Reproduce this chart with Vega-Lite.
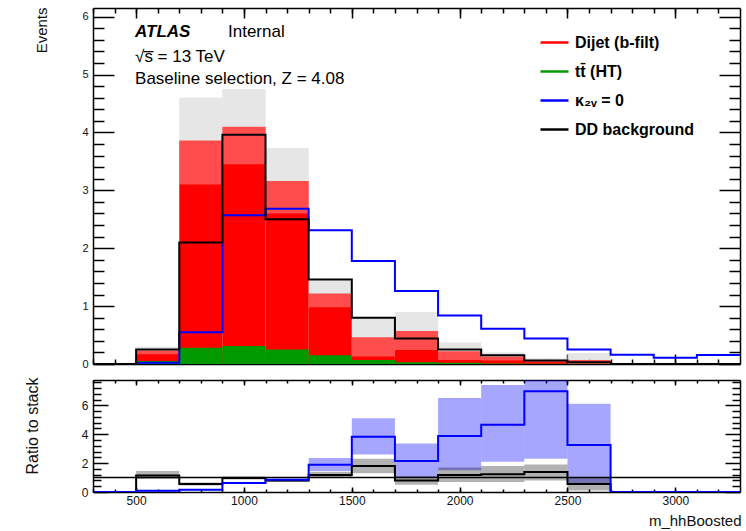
{
  "$schema": "https://vega.github.io/schema/vega-lite/v6.json",
  "background": "white",
  "padding": {"left": 23, "top": 7, "right": 0, "bottom": 0},
  "spacing": 8,
  "config": {
    "font": "Liberation Sans",
    "view": {"stroke": null},
    "axis": {"grid": false, "domain": false, "zindex": 1, "tickColor": "black", "tickWidth": 1.5, "domainColor": "black", "domainWidth": 1.5, "labelFont": "Liberation Sans", "titleFont": "Liberation Sans", "labelColor": "#111", "titleColor": "#111", "titleFontWeight": "normal"}
  },
  "datasets": {
    "bins": [
      {"lo": 300, "hi": 500, "total": 0, "ttbar": 0, "up": 0, "dn": 0, "ddlo": 0, "ddhi": 0, "klo": 0, "khi": 0},
      {"lo": 500, "hi": 700, "total": 0.235, "ttbar": 0.05, "up": 0.3, "dn": 0.17, "ddlo": 0.9, "ddhi": 1.45, "klo": 0.03, "khi": 0.13},
      {"lo": 700, "hi": 900, "total": 3.86, "ttbar": 0.28, "up": 4.6, "dn": 3.1, "ddlo": 0.45, "ddhi": 0.66, "klo": 0.12, "khi": 0.2},
      {"lo": 900, "hi": 1100, "total": 4.1, "ttbar": 0.31, "up": 4.75, "dn": 3.45, "ddlo": 0.86, "ddhi": 1.08, "klo": 0.56, "khi": 0.7},
      {"lo": 1100, "hi": 1300, "total": 3.16, "ttbar": 0.25, "up": 3.73, "dn": 2.6, "ddlo": 0.7, "ddhi": 0.88, "klo": 0.78, "khi": 0.92},
      {"lo": 1300, "hi": 1500, "total": 1.22, "ttbar": 0.15, "up": 1.44, "dn": 0.98, "ddlo": 1.0, "ddhi": 1.4, "klo": 1.45, "khi": 2.35},
      {"lo": 1500, "hi": 1700, "total": 0.46, "ttbar": 0.07, "up": 0.8, "dn": 0.13, "ddlo": 1.3, "ddhi": 2.3, "klo": 2.6, "khi": 5.1},
      {"lo": 1700, "hi": 1900, "total": 0.57, "ttbar": 0.03, "up": 0.9, "dn": 0.24, "ddlo": 0.5, "ddhi": 1.1, "klo": 1.0, "khi": 3.35},
      {"lo": 1900, "hi": 2100, "total": 0.22, "ttbar": 0.02, "up": 0.37, "dn": 0.07, "ddlo": 0.7, "ddhi": 1.7, "klo": 1.5, "khi": 6.5},
      {"lo": 2100, "hi": 2300, "total": 0.13, "ttbar": 0.01, "up": 0.2, "dn": 0.06, "ddlo": 0.7, "ddhi": 1.8, "klo": 2.1, "khi": 7.4},
      {"lo": 2300, "hi": 2500, "total": 0.063, "ttbar": 0.005, "up": 0.1, "dn": 0.03, "ddlo": 0.8, "ddhi": 1.9, "klo": 2.3, "khi": 7.8},
      {"lo": 2500, "hi": 2700, "total": 0.07, "ttbar": 0.005, "up": 0.19, "dn": 0, "ddlo": 0.1, "ddhi": 1.0, "klo": 0.5, "khi": 6.1},
      {"lo": 2700, "hi": 2900, "total": 0, "ttbar": 0, "up": 0, "dn": 0, "ddlo": 0, "ddhi": 0, "klo": 0, "khi": 0},
      {"lo": 2900, "hi": 3100, "total": 0, "ttbar": 0, "up": 0, "dn": 0, "ddlo": 0, "ddhi": 0, "klo": 0, "khi": 0},
      {"lo": 3100, "hi": 3300, "total": 0, "ttbar": 0, "up": 0, "dn": 0, "ddlo": 0, "ddhi": 0, "klo": 0, "khi": 0}
    ],
    "lines": [
      {"x": 300, "dd": 0, "k2v": 0, "rdd": 0, "rk": 0},
      {"x": 500, "dd": 0.25, "k2v": 0.02, "rdd": 1.15, "rk": 0.08},
      {"x": 700, "dd": 2.1, "k2v": 0.55, "rdd": 0.55, "rk": 0.16},
      {"x": 900, "dd": 3.96, "k2v": 2.57, "rdd": 0.97, "rk": 0.63},
      {"x": 1100, "dd": 2.5, "k2v": 2.68, "rdd": 0.79, "rk": 0.85},
      {"x": 1300, "dd": 1.46, "k2v": 2.31, "rdd": 1.18, "rk": 1.89},
      {"x": 1500, "dd": 0.8, "k2v": 1.78, "rdd": 1.8, "rk": 3.82},
      {"x": 1700, "dd": 0.44, "k2v": 1.26, "rdd": 0.8, "rk": 2.15},
      {"x": 1900, "dd": 0.25, "k2v": 0.84, "rdd": 1.18, "rk": 3.88},
      {"x": 2100, "dd": 0.15, "k2v": 0.61, "rdd": 1.22, "rk": 4.65},
      {"x": 2300, "dd": 0.06, "k2v": 0.44, "rdd": 1.38, "rk": 6.97},
      {"x": 2500, "dd": 0.03, "k2v": 0.25, "rdd": 0.55, "rk": 3.25},
      {"x": 2700, "dd": 0, "k2v": 0.16, "rdd": 0, "rk": 0},
      {"x": 2900, "dd": 0, "k2v": 0.11, "rdd": 0, "rk": 0},
      {"x": 3100, "dd": 0, "k2v": 0.155, "rdd": 0, "rk": 0},
      {"x": 3300, "dd": 0, "k2v": 0.155, "rdd": 0, "rk": 0}
    ]
  },
  "vconcat": [
    {
      "width": 647,
      "height": 356,
      "layer": [
        {
          "data": {"name": "bins"},
          "mark": {"type": "rect", "fill": "#c4c4c4", "opacity": 0.6, "clip": true},
          "encoding": {
            "x": {"field": "lo", "type": "quantitative", "scale": {"domain": [300, 3300], "nice": false, "zero": false},
                  "axis": {"orient": "top", "values": [500, 1000, 1500, 2000, 2500, 3000], "tickSize": -10, "labels": false, "title": null, "domain": true}},
            "x2": {"field": "hi"},
            "y": {"field": "up", "type": "quantitative", "scale": {"domain": [0, 6.15], "nice": false},
                  "axis": {"orient": "right", "values": [0, 1, 2, 3, 4, 5, 6], "tickSize": -21, "labels": false, "title": null, "domain": true}},
            "y2": {"field": "dn"}
          }
        },
        {
          "data": {"name": "bins"},
          "mark": {"type": "rect"},
          "encoding": {
            "x": {"field": "lo", "type": "quantitative",
                  "axis": {"orient": "bottom", "values": [500, 1000, 1500, 2000, 2500, 3000], "tickSize": -10, "labels": false, "title": null, "domain": true}},
            "x2": {"field": "hi"},
            "y": {"field": "total", "type": "quantitative",
                  "axis": {"orient": "left", "values": [0, 1, 2, 3, 4, 5, 6], "format": "d", "tickSize": -21, "labelPadding": 26, "labelFontSize": 11, "domain": true,
                           "title": "Events", "titleFontSize": 15, "titleAngle": -90, "titleAlign": "right", "titleBaseline": "alphabetic", "titleX": -47, "titleY": -1}},
            "y2": {"datum": 0},
            "color": {"datum": "Dijet (b-filt)", "type": "nominal",
                      "scale": {"domain": ["Dijet (b-filt)", "tt̄ (HT)", "κ₂ᵥ = 0", "DD background"], "range": ["#ff0000", "#009a00", "#0000ff", "#000000"]},
                      "legend": {"orient": "none", "legendX": 446, "legendY": 19, "title": null, "padding": 0, "symbolType": "stroke", "symbolSize": 784, "symbolStrokeWidth": 2.5,
                                 "labelFont": "Liberation Sans", "labelFontSize": 16, "labelFontWeight": "bold", "labelColor": "black", "labelOffset": 5, "rowPadding": 5,
                                 "encode": {"symbols": {"update": {"stroke": {"scale": "color", "field": "value"}, "fill": {"value": "transparent"}, "strokeWidth": {"value": 2.5}}}}}}
          }
        },
        {
          "data": {"name": "bins"},
          "mark": {"type": "rect"},
          "encoding": {
            "x": {"field": "lo", "type": "quantitative", "axis": {"orient": "bottom", "values": [300,400,500,600,700,800,900,1000,1100,1200,1300,1400,1500,1600,1700,1800,1900,2000,2100,2200,2300,2400,2500,2600,2700,2800,2900,3000,3100,3200], "tickSize": -5, "labels": false, "title": null}},
            "x2": {"field": "hi"},
            "y": {"field": "ttbar", "type": "quantitative", "axis": {"orient": "left", "values": [0.2,0.4,0.6,0.8,1.2,1.4,1.6,1.8,2.2,2.4,2.6,2.8,3.2,3.4,3.6,3.8,4.2,4.4,4.6,4.8,5.2,5.4,5.6,5.8], "tickSize": -11, "labels": false, "title": null}},
            "y2": {"datum": 0},
            "color": {"datum": "tt̄ (HT)", "type": "nominal"}
          }
        },
        {
          "data": {"name": "bins"},
          "mark": {"type": "rect", "fill": "#ffffff", "opacity": 0.3, "clip": true},
          "encoding": {
            "x": {"field": "lo", "type": "quantitative", "axis": null},
            "x2": {"field": "hi"},
            "y": {"field": "up", "type": "quantitative", "axis": null},
            "y2": {"field": "dn"}
          }
        },
        {
          "data": {"name": "lines"},
          "mark": {"type": "line", "interpolate": "step-after", "strokeWidth": 2},
          "encoding": {
            "x": {"field": "x", "type": "quantitative", "axis": {"orient": "top", "values": [300,400,500,600,700,800,900,1000,1100,1200,1300,1400,1500,1600,1700,1800,1900,2000,2100,2200,2300,2400,2500,2600,2700,2800,2900,3000,3100,3200], "tickSize": -5, "labels": false, "title": null}},
            "y": {"field": "k2v", "type": "quantitative", "axis": {"orient": "right", "values": [0.2,0.4,0.6,0.8,1.2,1.4,1.6,1.8,2.2,2.4,2.6,2.8,3.2,3.4,3.6,3.8,4.2,4.4,4.6,4.8,5.2,5.4,5.6,5.8], "tickSize": -11, "labels": false, "title": null}},
            "color": {"datum": "κ₂ᵥ = 0", "type": "nominal"}
          }
        },
        {
          "data": {"name": "lines"},
          "mark": {"type": "line", "interpolate": "step-after", "strokeWidth": 2},
          "encoding": {
            "x": {"field": "x", "type": "quantitative", "axis": null},
            "y": {"field": "dd", "type": "quantitative", "axis": null},
            "color": {"datum": "DD background", "type": "nominal"}
          }
        },
        {
          "data": {"values": [{}]},
          "mark": {"type": "text", "text": "ATLAS", "fontSize": 17, "fontWeight": "bold", "fontStyle": "italic", "align": "left", "baseline": "alphabetic", "color": "black"},
          "encoding": {"x": {"datum": 495, "type": "quantitative", "axis": null}, "y": {"datum": 5.643, "type": "quantitative", "axis": null}}
        },
        {
          "data": {"values": [{}]},
          "mark": {"type": "text", "text": "Internal", "fontSize": 17, "align": "left", "baseline": "alphabetic", "color": "black"},
          "encoding": {"x": {"datum": 926, "type": "quantitative", "axis": null}, "y": {"datum": 5.643, "type": "quantitative", "axis": null}}
        },
        {
          "data": {"values": [{}]},
          "mark": {"type": "text", "text": "√s̅ = 13 TeV", "fontSize": 17, "align": "left", "baseline": "alphabetic", "color": "black"},
          "encoding": {"x": {"datum": 495, "type": "quantitative", "axis": null}, "y": {"datum": 5.212, "type": "quantitative", "axis": null}}
        },
        {
          "data": {"values": [{}]},
          "mark": {"type": "text", "text": "Baseline selection, Z = 4.08", "fontSize": 17, "align": "left", "baseline": "alphabetic", "color": "black"},
          "encoding": {"x": {"datum": 495, "type": "quantitative", "axis": null}, "y": {"datum": 4.84, "type": "quantitative", "axis": null}}
        }
      ],
      "resolve": {"axis": {"x": "independent", "y": "independent"}}
    },
    {
      "width": 647,
      "height": 112,
      "layer": [
        {
          "data": {"name": "bins"},
          "mark": {"type": "rect", "fill": "#0000ff", "opacity": 0.35, "clip": true},
          "encoding": {
            "x": {"field": "lo", "type": "quantitative", "scale": {"domain": [300, 3300], "nice": false, "zero": false},
                  "axis": {"orient": "bottom", "values": [500, 1000, 1500, 2000, 2500, 3000], "format": "d", "tickSize": -5, "labelPadding": 8, "labelFontSize": 12, "domain": true,
                           "title": "m_hhBoosted", "titleFontSize": 15, "titleAlign": "right", "titleAnchor": "end", "titleBaseline": "alphabetic", "titleX": 648, "titleY": 33.5}},
            "x2": {"field": "hi"},
            "y": {"field": "khi", "type": "quantitative", "scale": {"domain": [0, 7.75], "nice": false},
                  "axis": {"orient": "left", "values": [0, 2, 4, 6], "format": "d", "tickSize": -15, "labelPadding": 20, "labelFontSize": 12, "domain": true,
                           "title": "Ratio to stack", "titleFontSize": 16, "titleAngle": -90, "titleAlign": "right", "titleBaseline": "alphabetic", "titleX": -56, "titleY": -3}},
            "y2": {"field": "klo"}
          }
        },
        {
          "data": {"name": "bins"},
          "mark": {"type": "rect", "fill": "#000000", "opacity": 0.3, "clip": true},
          "encoding": {
            "x": {"field": "lo", "type": "quantitative", "axis": {"orient": "bottom", "values": [300,400,500,600,700,800,900,1000,1100,1200,1300,1400,1500,1600,1700,1800,1900,2000,2100,2200,2300,2400,2500,2600,2700,2800,2900,3000,3100,3200], "tickSize": -3, "labels": false, "title": null}},
            "x2": {"field": "hi"},
            "y": {"field": "ddhi", "type": "quantitative", "axis": {"orient": "left", "values": [0.4,0.8,1.2,1.6,2.4,2.8,3.2,3.6,4.4,4.8,5.2,5.6,6.4,6.8,7.2,7.6], "tickSize": -8, "labels": false, "title": null}},
            "y2": {"field": "ddlo"}
          }
        },
        {
          "data": {"name": "lines"},
          "mark": {"type": "line", "interpolate": "step-after", "strokeWidth": 2, "color": "#000000", "clip": true},
          "encoding": {
            "x": {"field": "x", "type": "quantitative", "axis": {"orient": "top", "values": [500, 1000, 1500, 2000, 2500, 3000], "tickSize": -5, "labels": false, "title": null, "domain": true}},
            "y": {"field": "rdd", "type": "quantitative", "axis": {"orient": "right", "values": [0, 2, 4, 6], "tickSize": -15, "labels": false, "title": null, "domain": true}}
          }
        },
        {
          "data": {"name": "lines"},
          "mark": {"type": "line", "interpolate": "step-after", "strokeWidth": 2, "color": "#0000ff", "clip": true},
          "encoding": {
            "x": {"field": "x", "type": "quantitative", "axis": {"orient": "top", "values": [300,400,500,600,700,800,900,1000,1100,1200,1300,1400,1500,1600,1700,1800,1900,2000,2100,2200,2300,2400,2500,2600,2700,2800,2900,3000,3100,3200], "tickSize": -3, "labels": false, "title": null}},
            "y": {"field": "rk", "type": "quantitative", "axis": {"orient": "right", "values": [0.4,0.8,1.2,1.6,2.4,2.8,3.2,3.6,4.4,4.8,5.2,5.6,6.4,6.8,7.2,7.6], "tickSize": -8, "labels": false, "title": null}}
          }
        },
        {
          "data": {"values": [{}]},
          "mark": {"type": "rule", "color": "black", "strokeWidth": 1.5},
          "encoding": {"y": {"datum": 1, "type": "quantitative", "axis": null}}
        }
      ],
      "resolve": {"axis": {"x": "independent", "y": "independent"}}
    }
  ]
}
